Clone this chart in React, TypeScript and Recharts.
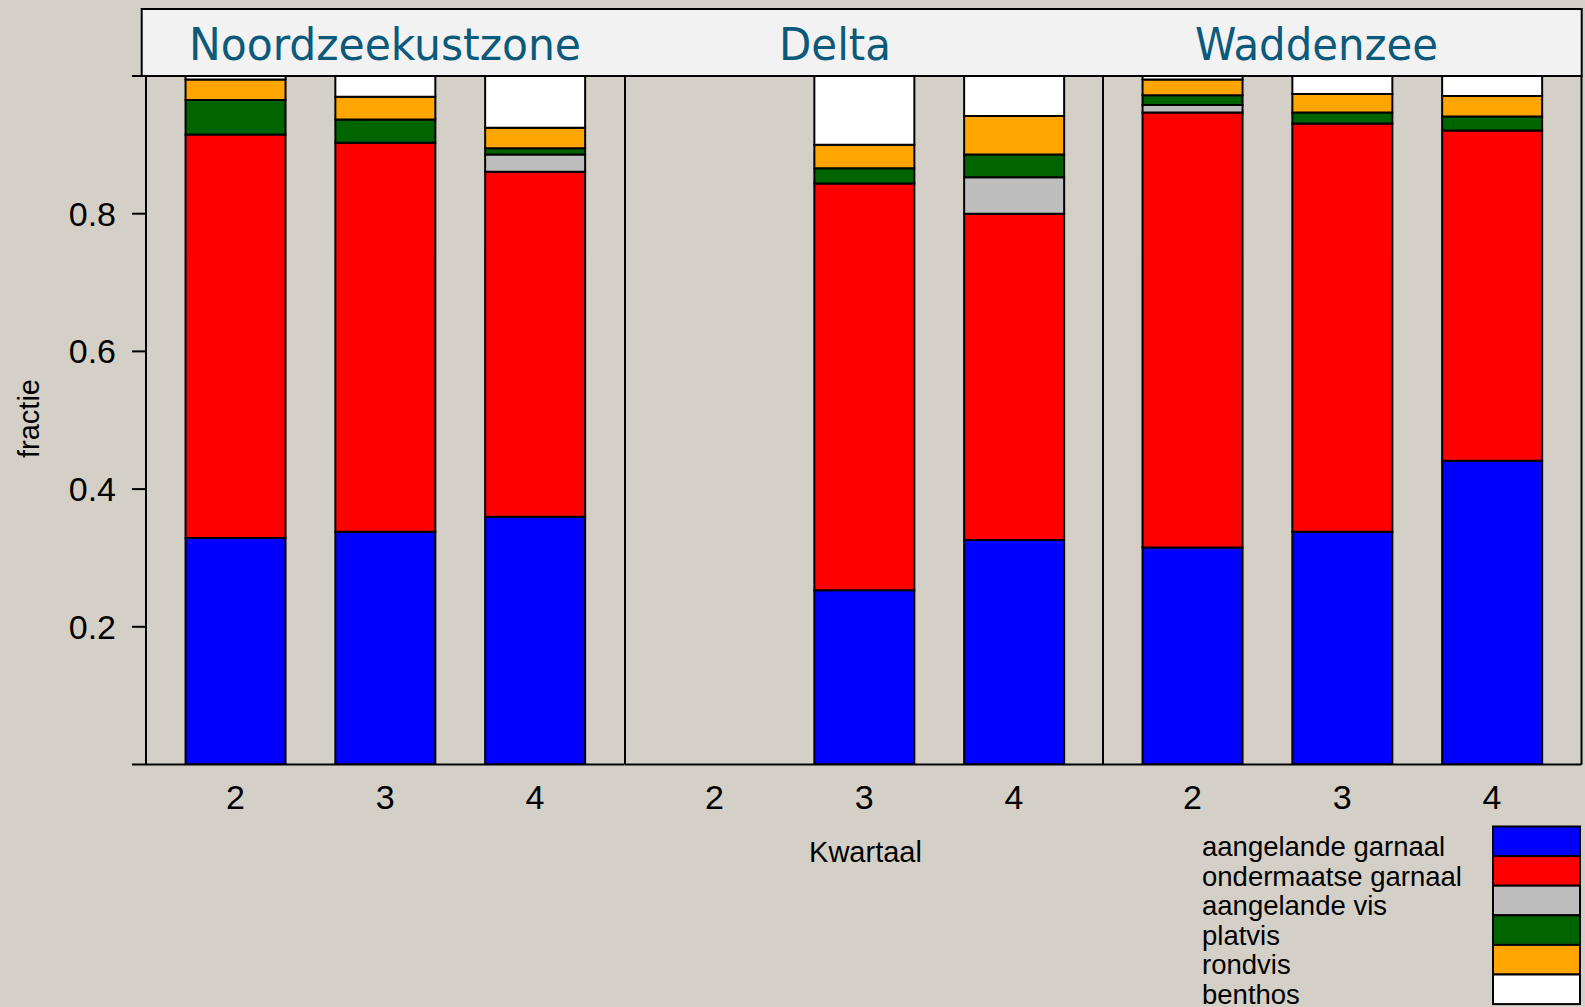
import React from 'react';
import { BarChart, Bar, XAxis, YAxis } from 'recharts';

// ---------- data ----------
const quarters = ['2', '3', '4'];
const regions = ['Noordzeekustzone', 'Delta', 'Waddenzee'];

// values in region order (Noordzeekustzone 2,3,4 | Delta 2,3,4 | Waddenzee 2,3,4)
const aangelandeGarnaal = [0.329, 0.338, 0.360, null, 0.253, 0.326, 0.315, 0.338, 0.441];
const ondermaatseGarnaal = [0.586, 0.565, 0.501, null, 0.591, 0.474, 0.632, 0.593, 0.480];
const aangelandeVis = [0, 0, 0.025, null, 0, 0.053, 0.011, 0, 0];
const platvis = [0.050, 0.034, 0.009, null, 0.022, 0.033, 0.014, 0.016, 0.020];
const rondvis = [0.030, 0.033, 0.030, null, 0.034, 0.056, 0.023, 0.027, 0.030];
const benthos = [0.005, 0.030, 0.075, null, 0.100, 0.058, 0.005, 0.026, 0.029];

const seriesKeys = ['ag', 'og', 'av', 'pv', 'rv', 'bt'];
const seriesNames = ['aangelande garnaal', 'ondermaatse garnaal', 'aangelande vis', 'platvis', 'rondvis', 'benthos'];
const seriesColors = ['#0000ff', '#ff0000', '#bebebe', '#006400', '#ffa500', '#ffffff'];
const seriesValues = [aangelandeGarnaal, ondermaatseGarnaal, aangelandeVis, platvis, rondvis, benthos];

const yTicks = [0, 0.2, 0.4, 0.6, 0.8, 1];
const yTickLabels = ['', '0.2', '0.4', '0.6', '0.8', ''];

// ---------- layout ----------
const W = 1585;
const H = 1007;
const PLOT_TOP = 76;
const PLOT_H = 688.5;
const X_AXIS_H = H - PLOT_TOP - PLOT_H;
const EDGES = [146, 624.5, 1103, 1581.5];
const BG = '#d4d0c8';
const AXIS_FONT = '"Liberation Sans", Arial, sans-serif';

function regionData(r: number) {
  return quarters.map((q, i) => {
    const row: any = { q };
    seriesKeys.forEach((k, s) => {
      row[k] = seriesValues[s][r * 3 + i];
    });
    return row;
  });
}

function Panel({ r }: { r: number }) {
  const plotW = EDGES[r + 1] - EDGES[r];
  const leftW = r === 0 ? EDGES[0] : 1;
  const rightW = r === 2 ? 4 : 0;
  const left = EDGES[r] - leftW;
  const width = leftW + plotW + rightW;
  const pad = (plotW - 3 * 149.8) / 2;
  return (
    <div style={{ position: 'absolute', left, top: 0, width, height: H }}>
      <BarChart
        width={width}
        height={H}
        data={regionData(r)}
        margin={{ top: PLOT_TOP, right: 0, bottom: 0, left: 0 }}
        barSize={100}
      >
        <XAxis
          dataKey="q"
          height={X_AXIS_H}
          padding={{ left: pad, right: pad }}
          axisLine={{ stroke: '#000', strokeWidth: 2 }}
          tickLine={false}
          tickSize={8}
          tickMargin={12.4}
          tick={{ fontSize: 34, fill: '#000', fontFamily: AXIS_FONT }}
          interval={0}
        />
        <YAxis
          width={leftW}
          domain={[0, 1]}
          allowDataOverflow
          ticks={yTicks}
          tick={r === 0 ? { fontSize: 34, fill: '#000', fontFamily: AXIS_FONT } : false}
          tickFormatter={(v: number) => yTickLabels[yTicks.indexOf(v)] ?? ''}
          tickSize={14}
          tickMargin={16}
          tickLine={r === 0 ? { stroke: '#000', strokeWidth: 2 } : false}
          axisLine={{ stroke: '#000', strokeWidth: 2 }}
        />
        {r === 2 && (
          <YAxis
            yAxisId="right"
            orientation="right"
            width={rightW}
            domain={[0, 1]}
            allowDataOverflow
            ticks={yTicks}
            tick={false}
            tickSize={5}
            tickLine={{ stroke: '#000', strokeWidth: 2 }}
            axisLine={{ stroke: '#000', strokeWidth: 2 }}
          />
        )}
        {seriesKeys.map((k, s) => (
          <Bar
            key={k}
            dataKey={k}
            name={seriesNames[s]}
            stackId="a"
            fill={seriesColors[s]}
            stroke="#000"
            strokeWidth={2}
            isAnimationActive={false}
          />
        ))}
      </BarChart>
    </div>
  );
}

const stripLabelX = [189, 779, 1195];
const stripLabelLen = [392, 112, 243];

function Overlay() {
  const legendX = 1493;
  const legendTop = 826.5;
  const rowH = 29.6;
  return (
    <svg
      width={W}
      height={H}
      style={{ position: 'absolute', left: 0, top: 0, pointerEvents: 'none' }}
    >
      <rect x={141.7} y={9} width={1440} height={67} fill="#f2f2f2" stroke="#000" strokeWidth={2} />
      {regions.map((name, i) => (
        <text
          key={name}
          x={stripLabelX[i]}
          y={59.5}
          fontSize={44}
          fill="#0b5a7b"
          fontFamily='"DejaVu Sans Condensed", "DejaVu Sans", sans-serif'
          textLength={stripLabelLen[i]}
          lengthAdjust="spacingAndGlyphs"
        >
          {name}
        </text>
      ))}
      <text
        x={39}
        y={418.5}
        transform="rotate(-90 39 418.5)"
        textAnchor="middle"
        fontSize={29}
        fontFamily={AXIS_FONT}
        fill="#000"
      >
        fractie
      </text>
      <text x={865.5} y={862} textAnchor="middle" fontSize={29} fontFamily={AXIS_FONT} fill="#000">
        Kwartaal
      </text>
      {seriesNames.map((name, s) => (
        <g key={name}>
          <rect
            x={legendX}
            y={legendTop + s * rowH}
            width={87}
            height={rowH}
            fill={seriesColors[s]}
            stroke="#000"
            strokeWidth={2}
          />
          <text
            x={1202}
            y={legendTop + s * rowH + 29.5}
            fontSize={27.5}
            fontFamily={AXIS_FONT}
            fill="#000"
          >
            {name}
          </text>
        </g>
      ))}
    </svg>
  );
}

export default function App() {
  return (
    <div
      style={{
        position: 'absolute',
        left: 0,
        top: 0,
        width: W,
        height: H,
        background: BG,
        overflow: 'hidden',
      }}
    >
      {regions.map((_, r) => (
        <Panel key={r} r={r} />
      ))}
      <Overlay />
    </div>
  );
}
